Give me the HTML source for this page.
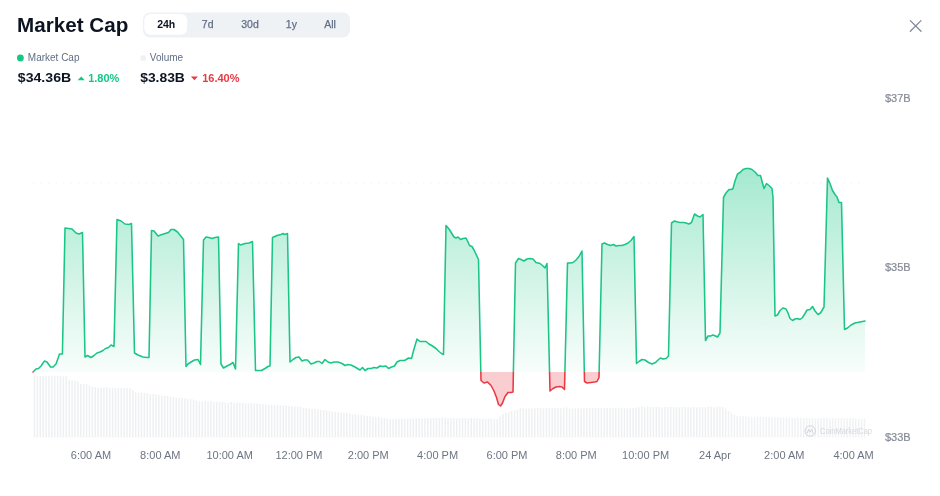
<!DOCTYPE html>
<html lang="en">
<head>
<meta charset="utf-8">
<title>Market Cap</title>
<style>
html,body{margin:0;padding:0;background:#fff;}
body{width:940px;height:496px;overflow:hidden;position:relative;font-family:"Liberation Sans",Arial,sans-serif;}
svg{position:absolute;left:0;top:0;display:block;}
text{font-family:"Liberation Sans",Arial,sans-serif;}
.ttl{font-size:20.3px;font-weight:700;fill:#0d1421;}
.tab{font-size:10.5px;fill:#616e85;text-anchor:middle;stroke:#616e85;stroke-width:0.25px;}
.tab.on{font-weight:700;fill:#0d1421;stroke:none;}
.lg{font-size:10px;fill:#616e85;}
.val{font-size:13px;font-weight:700;fill:#0d1421;}
.pct{font-size:11px;font-weight:700;}
.ax text{font-size:11px;fill:#6d7482;text-anchor:middle;}
.ay text{font-size:11px;fill:#848a96;stroke:#848a96;stroke-width:0.2px;}
.wm{font-size:8.8px;font-weight:400;fill:#d5d8de;}
</style>
</head>
<body>
<svg width="940" height="496" viewBox="0 0 940 496">
<defs>
<linearGradient id="gg" gradientUnits="userSpaceOnUse" x1="0" y1="165" x2="0" y2="372">
<stop offset="0" stop-color="#16c784" stop-opacity="0.39"/>
<stop offset="1" stop-color="#16c784" stop-opacity="0.03"/>
</linearGradient>
<clipPath id="up"><rect x="0" y="0" width="940" height="372"/></clipPath>
<clipPath id="dn"><rect x="0" y="372" width="940" height="124"/></clipPath>
</defs>
<rect width="940" height="496" fill="#fff"/>

<!-- header -->
<text class="ttl" x="17.1" y="31.9" textLength="111.2" lengthAdjust="spacingAndGlyphs">Market Cap</text>
<rect x="143" y="12.4" width="207" height="25.2" rx="7" fill="#eff2f5"/>
<rect x="144.3" y="14" width="42.8" height="20.8" rx="6" fill="#fff"/>
<text class="tab on" x="166.2" y="28.3">24h</text>
<text class="tab" x="207.7" y="28.3">7d</text>
<text class="tab" x="250" y="28.3">30d</text>
<text class="tab" x="291.4" y="28.3">1y</text>
<text class="tab" x="330" y="28.3">All</text>
<path d="M910.3,20.6L921,31.2M921,20.6L910.3,31.2" stroke="#808a9d" stroke-width="1.3" fill="none" stroke-linecap="round"/>

<!-- legend -->
<circle cx="20.4" cy="58" r="3.4" fill="#16c784"/>
<text class="lg" x="27.8" y="61">Market Cap</text>
<text class="val" x="17.8" y="81.6" textLength="53.4" lengthAdjust="spacingAndGlyphs">$34.36B</text>
<path d="M77.6,80.3L81.2,76.4L84.8,80.3Z" fill="#16c784"/>
<text class="pct" x="88.2" y="81.5" fill="#16c784">1.80%</text>

<rect x="140.4" y="55.2" width="5.6" height="5.6" rx="1.5" fill="#eff2f5"/>
<text class="lg" x="149.8" y="61">Volume</text>
<text class="val" x="140.2" y="81.6" textLength="44.7" lengthAdjust="spacingAndGlyphs">$3.83B</text>
<path d="M190.9,76.4L197.9,76.4L194.4,80.3Z" fill="#ea3943"/>
<text class="pct" x="202.2" y="81.5" fill="#ea3943">16.40%</text>

<!-- chart -->
<path d="M33,183H865" stroke="#f0f2f4" stroke-width="1" stroke-dasharray="1.5 6" fill="none"/>
<path d="M34.50,375.8V437.5M37.39,376.0V437.5M40.28,375.9V437.5M43.18,376.1V437.5M46.07,376.1V437.5M48.96,375.7V437.5M51.85,375.6V437.5M54.74,376.3V437.5M57.64,375.8V437.5M60.53,375.8V437.5M63.42,376.4V437.5M66.31,376.0V437.5M69.20,379.8V437.5M72.10,380.2V437.5M74.99,380.5V437.5M77.88,381.6V437.5M80.77,383.7V437.5M83.66,384.3V437.5M86.56,384.3V437.5M89.45,385.4V437.5M92.34,386.8V437.5M95.23,387.2V437.5M98.12,387.8V437.5M101.02,387.7V437.5M103.91,387.5V437.5M106.80,387.3V437.5M109.69,388.0V437.5M112.58,387.7V437.5M115.48,388.0V437.5M118.37,388.1V437.5M121.26,388.0V437.5M124.15,388.3V437.5M127.04,387.9V437.5M129.94,388.2V437.5M132.83,390.2V437.5M135.72,392.4V437.5M138.61,392.7V437.5M141.50,392.5V437.5M144.40,392.8V437.5M147.29,393.2V437.5M150.18,394.2V437.5M153.07,394.1V437.5M155.96,394.6V437.5M158.86,394.7V437.5M161.75,395.4V437.5M164.64,395.8V437.5M167.53,396.1V437.5M170.42,396.6V437.5M173.32,396.9V437.5M176.21,397.4V437.5M179.10,397.6V437.5M181.99,398.0V437.5M184.88,398.3V437.5M187.78,398.9V437.5M190.67,399.3V437.5M193.56,399.4V437.5M196.45,400.6V437.5M199.34,401.2V437.5M202.24,401.4V437.5M205.13,401.3V437.5M208.02,401.5V437.5M210.91,401.3V437.5M213.80,401.9V437.5M216.70,401.8V437.5M219.59,401.7V437.5M222.48,401.7V437.5M225.37,402.4V437.5M228.26,402.7V437.5M231.16,402.1V437.5M234.05,402.8V437.5M236.94,402.6V437.5M239.83,402.5V437.5M242.72,402.8V437.5M245.61,403.3V437.5M248.51,403.5V437.5M251.40,403.0V437.5M254.29,403.6V437.5M257.18,403.3V437.5M260.07,404.1V437.5M262.97,404.0V437.5M265.86,404.6V437.5M268.75,405.0V437.5M271.64,404.8V437.5M274.53,405.4V437.5M277.43,405.1V437.5M280.32,405.1V437.5M283.21,405.8V437.5M286.10,405.5V437.5M288.99,405.9V437.5M291.89,406.3V437.5M294.78,406.7V437.5M297.67,406.5V437.5M300.56,406.7V437.5M303.45,407.8V437.5M306.35,407.7V437.5M309.24,408.6V437.5M312.13,408.9V437.5M315.02,408.9V437.5M317.91,409.4V437.5M320.81,409.8V437.5M323.70,410.3V437.5M326.59,410.6V437.5M329.48,411.0V437.5M332.37,411.4V437.5M335.27,412.1V437.5M338.16,412.1V437.5M341.05,412.4V437.5M343.94,413.0V437.5M346.83,413.0V437.5M349.73,413.5V437.5M352.62,414.4V437.5M355.51,414.4V437.5M358.40,414.8V437.5M361.29,414.8V437.5M364.19,415.5V437.5M367.08,416.0V437.5M369.97,415.9V437.5M372.86,416.8V437.5M375.75,417.2V437.5M378.65,417.1V437.5M381.54,418.0V437.5M384.43,418.2V437.5M387.32,418.8V437.5M390.21,418.9V437.5M393.11,419.1V437.5M396.00,419.1V437.5M398.89,418.4V437.5M401.78,418.4V437.5M404.67,418.8V437.5M407.57,419.0V437.5M410.46,418.4V437.5M413.35,418.5V437.5M416.24,418.5V437.5M419.13,418.3V437.5M422.03,418.3V437.5M424.92,418.2V437.5M427.81,418.1V437.5M430.70,418.3V437.5M433.59,418.0V437.5M436.49,418.0V437.5M439.38,418.2V437.5M442.27,417.6V437.5M445.16,418.1V437.5M448.05,418.3V437.5M450.95,418.0V437.5M453.84,418.0V437.5M456.73,418.5V437.5M459.62,418.0V437.5M462.51,418.0V437.5M465.41,418.3V437.5M468.30,418.5V437.5M471.19,418.1V437.5M474.08,418.3V437.5M476.97,418.3V437.5M479.87,418.8V437.5M482.76,418.5V437.5M485.65,419.0V437.5M488.54,418.5V437.5M491.43,418.7V437.5M494.33,419.0V437.5M497.22,419.1V437.5M500.11,416.6V437.5M503.00,414.3V437.5M505.89,412.4V437.5M508.79,411.9V437.5M511.68,410.7V437.5M514.57,410.4V437.5M517.46,409.5V437.5M520.35,408.2V437.5M523.25,408.3V437.5M526.14,408.7V437.5M529.03,408.5V437.5M531.92,408.6V437.5M534.81,408.2V437.5M537.71,408.0V437.5M540.60,408.1V437.5M543.49,408.4V437.5M546.38,408.0V437.5M549.27,408.0V437.5M552.17,408.0V437.5M555.06,408.0V437.5M557.95,408.0V437.5M560.84,408.3V437.5M563.73,407.7V437.5M566.63,407.6V437.5M569.52,408.4V437.5M572.41,408.3V437.5M575.30,408.4V437.5M578.19,407.9V437.5M581.09,408.4V437.5M583.98,408.3V437.5M586.87,407.8V437.5M589.76,408.2V437.5M592.65,408.3V437.5M595.55,408.1V437.5M598.44,408.0V437.5M601.33,407.8V437.5M604.22,407.9V437.5M607.11,407.8V437.5M610.01,407.7V437.5M612.90,408.1V437.5M615.79,407.8V437.5M618.68,408.2V437.5M621.57,407.6V437.5M624.47,408.3V437.5M627.36,408.2V437.5M630.25,408.3V437.5M633.14,408.0V437.5M636.03,407.7V437.5M638.93,407.2V437.5M641.82,406.6V437.5M644.71,407.2V437.5M647.60,406.7V437.5M650.49,406.8V437.5M653.39,407.1V437.5M656.28,407.0V437.5M659.17,406.9V437.5M662.06,407.4V437.5M664.95,407.1V437.5M667.84,406.9V437.5M670.74,406.8V437.5M673.63,407.3V437.5M676.52,407.0V437.5M679.41,407.2V437.5M682.30,406.9V437.5M685.20,406.8V437.5M688.09,407.0V437.5M690.98,407.3V437.5M693.87,406.7V437.5M696.76,407.2V437.5M699.66,407.3V437.5M702.55,407.2V437.5M705.44,407.3V437.5M708.33,406.6V437.5M711.22,407.1V437.5M714.12,407.3V437.5M717.01,406.6V437.5M719.90,406.8V437.5M722.79,406.8V437.5M725.68,408.5V437.5" stroke="#eef0f2" stroke-width="1.5" fill="none"/>
<path d="M728.58,410.9V437.5M731.47,413.2V437.5M734.36,414.9V437.5M737.25,415.7V437.5M740.14,416.2V437.5M743.04,416.3V437.5M745.93,416.4V437.5M748.82,416.4V437.5M751.71,417.2V437.5M754.60,417.2V437.5M757.50,416.6V437.5M760.39,417.0V437.5M763.28,417.0V437.5M766.17,417.0V437.5M769.06,417.1V437.5M771.96,417.4V437.5M774.85,417.5V437.5M777.74,417.4V437.5M780.63,417.3V437.5M783.52,417.5V437.5M786.42,417.4V437.5M789.31,417.8V437.5M792.20,418.0V437.5M795.09,417.8V437.5M797.98,417.6V437.5M800.88,417.7V437.5M803.77,417.9V437.5M806.66,418.1V437.5M809.55,418.3V437.5M812.44,418.0V437.5M815.34,418.4V437.5M818.23,418.2V437.5M821.12,418.1V437.5M824.01,418.1V437.5M826.90,418.2V437.5M829.80,418.4V437.5M832.69,418.2V437.5M835.58,418.4V437.5M838.47,418.3V437.5M841.36,418.1V437.5M844.26,418.4V437.5M847.15,418.5V437.5M850.04,418.0V437.5M852.93,418.3V437.5M855.82,418.4V437.5M858.72,418.8V437.5M861.61,418.8V437.5M864.50,418.4V437.5" stroke="#f1f2f4" stroke-width="1.5" fill="none"/>
<g clip-path="url(#up)">
<path d="M33,372 L36,369 L38.5,368.5 L41,366 L44.5,361 L47,362 L50.5,367 L53,367 L56,364 L58.5,357 L59.5,354 L62.4,354 L65,228 L72,229 L76,233 L79,234 L82.5,232.5 L85,357 L87.5,355.5 L91,357.5 L94,355.5 L97,353 L100,352 L103,350.5 L105.5,348.5 L108.5,347.5 L111,345 L114,346.5 L117,219.5 L121,221 L125,224 L129,224.5 L131.5,223.5 L134.5,353 L138,355 L143,357 L147,357.5 L149,357.5 L151.5,230.5 L154,231 L158,236 L162,234.5 L168.5,232.5 L171,229.5 L174,229.5 L177.5,232 L183.5,239.5 L186,366.5 L188,364 L191,362 L194.5,360 L198,359.5 L200.5,364.5 L203.5,240 L206,237 L209,237.5 L212,238.5 L215,237.5 L218.5,237 L221,364 L223.5,368 L227,366 L230,364.5 L233,362.5 L235.5,369 L238.5,243.5 L240.5,245 L245,243.5 L249,243 L252.5,241.5 L255.5,370.5 L258,370.5 L261.5,370.5 L265,368.5 L268,366.5 L270,366 L272.5,237.5 L277,235.5 L281,234.5 L283,233.5 L284.5,234.5 L287.5,233.5 L290,362 L293,359.5 L296,357.5 L299,357 L302,361 L304.5,360 L307.5,360 L311,364 L314,363 L317,361.5 L319.5,361.5 L322,363.5 L325,359.5 L328,362 L331,363 L334,362 L338,362 L342,363.5 L345,365.5 L348,364.5 L351,365 L355,367 L360,370 L362.5,367.5 L365,370.5 L368,368.5 L371,368.5 L374,367.5 L377,368 L380,366 L383,366.5 L386,366 L388.5,368.5 L391.5,367 L394.5,366 L397,362 L400,360.5 L403.5,360.5 L405.5,360 L408.5,358 L411.5,358.5 L414,349 L417,339 L420,341.5 L423,341.5 L426,341.5 L429,344 L432.5,346 L436,348.5 L439,351.5 L441.5,353.5 L443.5,354.5 L446,225.5 L449,229 L454,237 L456,238 L458,237 L460.5,239.5 L463,238.5 L466,238 L468,242 L469.5,245.5 L472,246.5 L474,250 L478.5,259.5 L481,380.5 L484,383 L487.5,382 L491,385.5 L494,391 L496.5,397.5 L498.5,404.5 L500.5,406 L502.5,403 L505,396.5 L508,392.5 L511,392.5 L513,392 L515.5,263 L518.5,258.5 L521,259.5 L524,261 L527,259 L530,258.5 L533,259 L536,262.5 L540,263.5 L542.5,265.5 L545,268 L547,263.5 L550,391 L553,388.5 L556,387 L559.5,386.5 L562,387 L564.5,389.5 L567.5,263 L570,263 L573,262.5 L576,260 L579,256.5 L582,251 L584.5,381.5 L587,383 L591,382.5 L594.5,382 L597,381.5 L599,377.5 L602,244 L604.5,243 L607.5,244.5 L610.5,245.5 L613.5,244.5 L616,246 L619,245.5 L622,245.5 L625,244.5 L628,243 L631,240.5 L634,236.5 L636.5,363.5 L639,361.5 L642,359.5 L645,360 L648.5,362.5 L652,364 L655.5,362.5 L658,360 L660.5,358 L663,359 L666,358.5 L668.5,356 L671.5,223 L674.5,221 L677.5,222 L680.5,222.5 L684,222.5 L686,223 L689,224 L691.5,222.5 L694.5,214 L697.5,216 L700,217 L703,214.5 L705.5,340.5 L708,336 L710.5,336 L713,335 L715.5,336 L717.5,337 L720,333 L723.5,197.5 L726,193 L729,189.5 L731.5,189.5 L733,188.5 L735,181 L737.5,174 L740,172.5 L743,169.5 L746,168.5 L749,168.5 L752,169.5 L755,172 L758,175.5 L760.5,175.5 L762.5,183 L764,188.5 L766.5,183.5 L769,185.5 L772,188.5 L773,197.5 L775,316 L777.5,315 L780,310.5 L783,308 L786,309 L788,313 L790,318.5 L792.5,320.5 L795,319 L797.5,318.5 L800,319.5 L802.5,317.5 L805,313.5 L807,310 L810,309.5 L812.5,306.5 L815,311 L818,314.5 L820.5,313 L824,307 L827.5,178 L830,183.5 L832.5,190.5 L835,194.5 L837,197 L839,202.5 L841.5,202.5 L844.5,329.5 L847.5,328 L851,325 L855,323 L860,322 L865,321 L865,372 L33,372 Z" fill="url(#gg)"/>
<path d="M33,372 L36,369 L38.5,368.5 L41,366 L44.5,361 L47,362 L50.5,367 L53,367 L56,364 L58.5,357 L59.5,354 L62.4,354 L65,228 L72,229 L76,233 L79,234 L82.5,232.5 L85,357 L87.5,355.5 L91,357.5 L94,355.5 L97,353 L100,352 L103,350.5 L105.5,348.5 L108.5,347.5 L111,345 L114,346.5 L117,219.5 L121,221 L125,224 L129,224.5 L131.5,223.5 L134.5,353 L138,355 L143,357 L147,357.5 L149,357.5 L151.5,230.5 L154,231 L158,236 L162,234.5 L168.5,232.5 L171,229.5 L174,229.5 L177.5,232 L183.5,239.5 L186,366.5 L188,364 L191,362 L194.5,360 L198,359.5 L200.5,364.5 L203.5,240 L206,237 L209,237.5 L212,238.5 L215,237.5 L218.5,237 L221,364 L223.5,368 L227,366 L230,364.5 L233,362.5 L235.5,369 L238.5,243.5 L240.5,245 L245,243.5 L249,243 L252.5,241.5 L255.5,370.5 L258,370.5 L261.5,370.5 L265,368.5 L268,366.5 L270,366 L272.5,237.5 L277,235.5 L281,234.5 L283,233.5 L284.5,234.5 L287.5,233.5 L290,362 L293,359.5 L296,357.5 L299,357 L302,361 L304.5,360 L307.5,360 L311,364 L314,363 L317,361.5 L319.5,361.5 L322,363.5 L325,359.5 L328,362 L331,363 L334,362 L338,362 L342,363.5 L345,365.5 L348,364.5 L351,365 L355,367 L360,370 L362.5,367.5 L365,370.5 L368,368.5 L371,368.5 L374,367.5 L377,368 L380,366 L383,366.5 L386,366 L388.5,368.5 L391.5,367 L394.5,366 L397,362 L400,360.5 L403.5,360.5 L405.5,360 L408.5,358 L411.5,358.5 L414,349 L417,339 L420,341.5 L423,341.5 L426,341.5 L429,344 L432.5,346 L436,348.5 L439,351.5 L441.5,353.5 L443.5,354.5 L446,225.5 L449,229 L454,237 L456,238 L458,237 L460.5,239.5 L463,238.5 L466,238 L468,242 L469.5,245.5 L472,246.5 L474,250 L478.5,259.5 L481,380.5 L484,383 L487.5,382 L491,385.5 L494,391 L496.5,397.5 L498.5,404.5 L500.5,406 L502.5,403 L505,396.5 L508,392.5 L511,392.5 L513,392 L515.5,263 L518.5,258.5 L521,259.5 L524,261 L527,259 L530,258.5 L533,259 L536,262.5 L540,263.5 L542.5,265.5 L545,268 L547,263.5 L550,391 L553,388.5 L556,387 L559.5,386.5 L562,387 L564.5,389.5 L567.5,263 L570,263 L573,262.5 L576,260 L579,256.5 L582,251 L584.5,381.5 L587,383 L591,382.5 L594.5,382 L597,381.5 L599,377.5 L602,244 L604.5,243 L607.5,244.5 L610.5,245.5 L613.5,244.5 L616,246 L619,245.5 L622,245.5 L625,244.5 L628,243 L631,240.5 L634,236.5 L636.5,363.5 L639,361.5 L642,359.5 L645,360 L648.5,362.5 L652,364 L655.5,362.5 L658,360 L660.5,358 L663,359 L666,358.5 L668.5,356 L671.5,223 L674.5,221 L677.5,222 L680.5,222.5 L684,222.5 L686,223 L689,224 L691.5,222.5 L694.5,214 L697.5,216 L700,217 L703,214.5 L705.5,340.5 L708,336 L710.5,336 L713,335 L715.5,336 L717.5,337 L720,333 L723.5,197.5 L726,193 L729,189.5 L731.5,189.5 L733,188.5 L735,181 L737.5,174 L740,172.5 L743,169.5 L746,168.5 L749,168.5 L752,169.5 L755,172 L758,175.5 L760.5,175.5 L762.5,183 L764,188.5 L766.5,183.5 L769,185.5 L772,188.5 L773,197.5 L775,316 L777.5,315 L780,310.5 L783,308 L786,309 L788,313 L790,318.5 L792.5,320.5 L795,319 L797.5,318.5 L800,319.5 L802.5,317.5 L805,313.5 L807,310 L810,309.5 L812.5,306.5 L815,311 L818,314.5 L820.5,313 L824,307 L827.5,178 L830,183.5 L832.5,190.5 L835,194.5 L837,197 L839,202.5 L841.5,202.5 L844.5,329.5 L847.5,328 L851,325 L855,323 L860,322 L865,321" fill="none" stroke="#1ac586" stroke-width="1.55" stroke-linejoin="round" stroke-linecap="round"/>
</g>
<g clip-path="url(#dn)">
<path d="M33,372 L36,369 L38.5,368.5 L41,366 L44.5,361 L47,362 L50.5,367 L53,367 L56,364 L58.5,357 L59.5,354 L62.4,354 L65,228 L72,229 L76,233 L79,234 L82.5,232.5 L85,357 L87.5,355.5 L91,357.5 L94,355.5 L97,353 L100,352 L103,350.5 L105.5,348.5 L108.5,347.5 L111,345 L114,346.5 L117,219.5 L121,221 L125,224 L129,224.5 L131.5,223.5 L134.5,353 L138,355 L143,357 L147,357.5 L149,357.5 L151.5,230.5 L154,231 L158,236 L162,234.5 L168.5,232.5 L171,229.5 L174,229.5 L177.5,232 L183.5,239.5 L186,366.5 L188,364 L191,362 L194.5,360 L198,359.5 L200.5,364.5 L203.5,240 L206,237 L209,237.5 L212,238.5 L215,237.5 L218.5,237 L221,364 L223.5,368 L227,366 L230,364.5 L233,362.5 L235.5,369 L238.5,243.5 L240.5,245 L245,243.5 L249,243 L252.5,241.5 L255.5,370.5 L258,370.5 L261.5,370.5 L265,368.5 L268,366.5 L270,366 L272.5,237.5 L277,235.5 L281,234.5 L283,233.5 L284.5,234.5 L287.5,233.5 L290,362 L293,359.5 L296,357.5 L299,357 L302,361 L304.5,360 L307.5,360 L311,364 L314,363 L317,361.5 L319.5,361.5 L322,363.5 L325,359.5 L328,362 L331,363 L334,362 L338,362 L342,363.5 L345,365.5 L348,364.5 L351,365 L355,367 L360,370 L362.5,367.5 L365,370.5 L368,368.5 L371,368.5 L374,367.5 L377,368 L380,366 L383,366.5 L386,366 L388.5,368.5 L391.5,367 L394.5,366 L397,362 L400,360.5 L403.5,360.5 L405.5,360 L408.5,358 L411.5,358.5 L414,349 L417,339 L420,341.5 L423,341.5 L426,341.5 L429,344 L432.5,346 L436,348.5 L439,351.5 L441.5,353.5 L443.5,354.5 L446,225.5 L449,229 L454,237 L456,238 L458,237 L460.5,239.5 L463,238.5 L466,238 L468,242 L469.5,245.5 L472,246.5 L474,250 L478.5,259.5 L481,380.5 L484,383 L487.5,382 L491,385.5 L494,391 L496.5,397.5 L498.5,404.5 L500.5,406 L502.5,403 L505,396.5 L508,392.5 L511,392.5 L513,392 L515.5,263 L518.5,258.5 L521,259.5 L524,261 L527,259 L530,258.5 L533,259 L536,262.5 L540,263.5 L542.5,265.5 L545,268 L547,263.5 L550,391 L553,388.5 L556,387 L559.5,386.5 L562,387 L564.5,389.5 L567.5,263 L570,263 L573,262.5 L576,260 L579,256.5 L582,251 L584.5,381.5 L587,383 L591,382.5 L594.5,382 L597,381.5 L599,377.5 L602,244 L604.5,243 L607.5,244.5 L610.5,245.5 L613.5,244.5 L616,246 L619,245.5 L622,245.5 L625,244.5 L628,243 L631,240.5 L634,236.5 L636.5,363.5 L639,361.5 L642,359.5 L645,360 L648.5,362.5 L652,364 L655.5,362.5 L658,360 L660.5,358 L663,359 L666,358.5 L668.5,356 L671.5,223 L674.5,221 L677.5,222 L680.5,222.5 L684,222.5 L686,223 L689,224 L691.5,222.5 L694.5,214 L697.5,216 L700,217 L703,214.5 L705.5,340.5 L708,336 L710.5,336 L713,335 L715.5,336 L717.5,337 L720,333 L723.5,197.5 L726,193 L729,189.5 L731.5,189.5 L733,188.5 L735,181 L737.5,174 L740,172.5 L743,169.5 L746,168.5 L749,168.5 L752,169.5 L755,172 L758,175.5 L760.5,175.5 L762.5,183 L764,188.5 L766.5,183.5 L769,185.5 L772,188.5 L773,197.5 L775,316 L777.5,315 L780,310.5 L783,308 L786,309 L788,313 L790,318.5 L792.5,320.5 L795,319 L797.5,318.5 L800,319.5 L802.5,317.5 L805,313.5 L807,310 L810,309.5 L812.5,306.5 L815,311 L818,314.5 L820.5,313 L824,307 L827.5,178 L830,183.5 L832.5,190.5 L835,194.5 L837,197 L839,202.5 L841.5,202.5 L844.5,329.5 L847.5,328 L851,325 L855,323 L860,322 L865,321 L865,372 L33,372 Z" fill="#ea3943" fill-opacity="0.25"/>
<path d="M33,372 L36,369 L38.5,368.5 L41,366 L44.5,361 L47,362 L50.5,367 L53,367 L56,364 L58.5,357 L59.5,354 L62.4,354 L65,228 L72,229 L76,233 L79,234 L82.5,232.5 L85,357 L87.5,355.5 L91,357.5 L94,355.5 L97,353 L100,352 L103,350.5 L105.5,348.5 L108.5,347.5 L111,345 L114,346.5 L117,219.5 L121,221 L125,224 L129,224.5 L131.5,223.5 L134.5,353 L138,355 L143,357 L147,357.5 L149,357.5 L151.5,230.5 L154,231 L158,236 L162,234.5 L168.5,232.5 L171,229.5 L174,229.5 L177.5,232 L183.5,239.5 L186,366.5 L188,364 L191,362 L194.5,360 L198,359.5 L200.5,364.5 L203.5,240 L206,237 L209,237.5 L212,238.5 L215,237.5 L218.5,237 L221,364 L223.5,368 L227,366 L230,364.5 L233,362.5 L235.5,369 L238.5,243.5 L240.5,245 L245,243.5 L249,243 L252.5,241.5 L255.5,370.5 L258,370.5 L261.5,370.5 L265,368.5 L268,366.5 L270,366 L272.5,237.5 L277,235.5 L281,234.5 L283,233.5 L284.5,234.5 L287.5,233.5 L290,362 L293,359.5 L296,357.5 L299,357 L302,361 L304.5,360 L307.5,360 L311,364 L314,363 L317,361.5 L319.5,361.5 L322,363.5 L325,359.5 L328,362 L331,363 L334,362 L338,362 L342,363.5 L345,365.5 L348,364.5 L351,365 L355,367 L360,370 L362.5,367.5 L365,370.5 L368,368.5 L371,368.5 L374,367.5 L377,368 L380,366 L383,366.5 L386,366 L388.5,368.5 L391.5,367 L394.5,366 L397,362 L400,360.5 L403.5,360.5 L405.5,360 L408.5,358 L411.5,358.5 L414,349 L417,339 L420,341.5 L423,341.5 L426,341.5 L429,344 L432.5,346 L436,348.5 L439,351.5 L441.5,353.5 L443.5,354.5 L446,225.5 L449,229 L454,237 L456,238 L458,237 L460.5,239.5 L463,238.5 L466,238 L468,242 L469.5,245.5 L472,246.5 L474,250 L478.5,259.5 L481,380.5 L484,383 L487.5,382 L491,385.5 L494,391 L496.5,397.5 L498.5,404.5 L500.5,406 L502.5,403 L505,396.5 L508,392.5 L511,392.5 L513,392 L515.5,263 L518.5,258.5 L521,259.5 L524,261 L527,259 L530,258.5 L533,259 L536,262.5 L540,263.5 L542.5,265.5 L545,268 L547,263.5 L550,391 L553,388.5 L556,387 L559.5,386.5 L562,387 L564.5,389.5 L567.5,263 L570,263 L573,262.5 L576,260 L579,256.5 L582,251 L584.5,381.5 L587,383 L591,382.5 L594.5,382 L597,381.5 L599,377.5 L602,244 L604.5,243 L607.5,244.5 L610.5,245.5 L613.5,244.5 L616,246 L619,245.5 L622,245.5 L625,244.5 L628,243 L631,240.5 L634,236.5 L636.5,363.5 L639,361.5 L642,359.5 L645,360 L648.5,362.5 L652,364 L655.5,362.5 L658,360 L660.5,358 L663,359 L666,358.5 L668.5,356 L671.5,223 L674.5,221 L677.5,222 L680.5,222.5 L684,222.5 L686,223 L689,224 L691.5,222.5 L694.5,214 L697.5,216 L700,217 L703,214.5 L705.5,340.5 L708,336 L710.5,336 L713,335 L715.5,336 L717.5,337 L720,333 L723.5,197.5 L726,193 L729,189.5 L731.5,189.5 L733,188.5 L735,181 L737.5,174 L740,172.5 L743,169.5 L746,168.5 L749,168.5 L752,169.5 L755,172 L758,175.5 L760.5,175.5 L762.5,183 L764,188.5 L766.5,183.5 L769,185.5 L772,188.5 L773,197.5 L775,316 L777.5,315 L780,310.5 L783,308 L786,309 L788,313 L790,318.5 L792.5,320.5 L795,319 L797.5,318.5 L800,319.5 L802.5,317.5 L805,313.5 L807,310 L810,309.5 L812.5,306.5 L815,311 L818,314.5 L820.5,313 L824,307 L827.5,178 L830,183.5 L832.5,190.5 L835,194.5 L837,197 L839,202.5 L841.5,202.5 L844.5,329.5 L847.5,328 L851,325 L855,323 L860,322 L865,321" fill="none" stroke="#ea3943" stroke-width="1.55" stroke-linejoin="round" stroke-linecap="round"/>
</g>

<!-- watermark -->
<g fill="none" stroke="#d0d4db" stroke-width="1">
<circle cx="810.2" cy="431" r="5.2"/>
<path d="M807.3,433.3L808.6,429.2L810.2,432.2L811.8,429.2L813.1,433.3"/>
</g>
<text class="wm" x="820" y="434.2" textLength="52" lengthAdjust="spacingAndGlyphs">CoinMarketCap</text>

<!-- axes -->
<g class="ay">
<text x="885" y="102">$37B</text>
<text x="885" y="271.3">$35B</text>
<text x="885" y="441.3">$33B</text>
</g>
<g class="ax"><text x="91.0" y="459.3">6:00 AM</text><text x="160.3" y="459.3">8:00 AM</text><text x="229.7" y="459.3">10:00 AM</text><text x="299.0" y="459.3">12:00 PM</text><text x="368.3" y="459.3">2:00 PM</text><text x="437.6" y="459.3">4:00 PM</text><text x="507.0" y="459.3">6:00 PM</text><text x="576.3" y="459.3">8:00 PM</text><text x="645.6" y="459.3">10:00 PM</text><text x="715.0" y="459.3">24 Apr</text><text x="784.3" y="459.3">2:00 AM</text><text x="853.6" y="459.3">4:00 AM</text></g>
</svg>
</body>
</html>
